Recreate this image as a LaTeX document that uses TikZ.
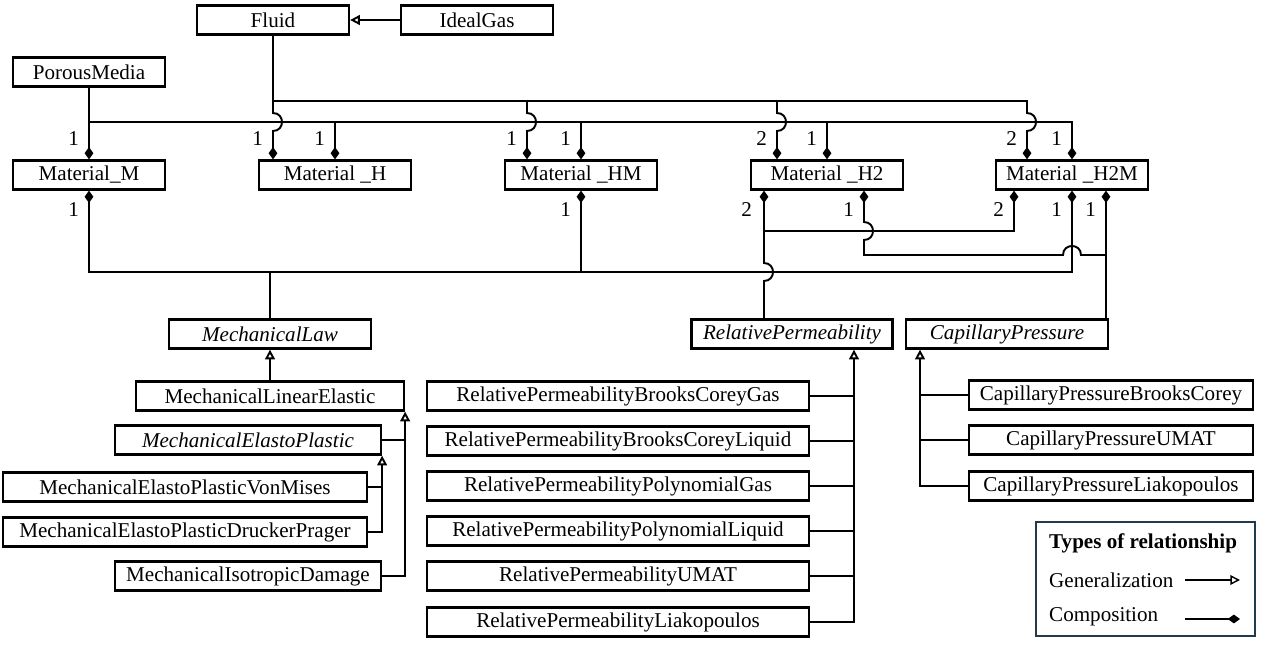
\documentclass[tikz,border=0pt]{standalone}
\usepackage{fontspec}
\setmainfont{Liberation Serif}
\usetikzlibrary{arrows.meta}
\definecolor{legendframe}{HTML}{1F3B4D}
\tikzset{
  every node/.style={font=\fontsize{12}{14}\selectfont},
  cls/.style={draw, line width=1.3pt, minimum width=3.04cm, minimum height=0.58cm, inner sep=1pt},
  abscls/.style={cls, font=\fontsize{12}{14}\selectfont\itshape},
  link/.style={line width=1.1pt},
  gen/.style={link, -{Triangle[open, length=5.5pt, width=5.5pt]}},
  comp/.style={link, -{Diamond[length=7pt, width=5pt]}},
  mult/.style={inner sep=1pt, anchor=east},
}
\begin{document}
\begin{tikzpicture}[x=0.02cm, y=-0.02cm]
  \useasboundingbox (0,0) rectangle (1262,645);
  % classes
  \node[cls] (fluid) at (273,20) {Fluid};
  \node[cls] (ideal) at (477,20) {IdealGas};
  \node[cls] (porous) at (89,72) {PorousMedia};
  \node[cls] (mM) at (89,175) {Material\_M};
  \node[cls] (mH) at (335,175) {Material \_H};
  \node[cls] (mHM) at (581,175) {Material \_HM};
  \node[cls] (mH2) at (827,175) {Material \_H2};
  \node[cls] (mH2M) at (1072,175) {Material \_H2M};

  \node[abscls, minimum width=4.04cm] (mech) at (270,334) {MechanicalLaw};
  \node[cls, minimum width=5.36cm] (mle) at (270,396) {MechanicalLinearElastic};
  \node[abscls, minimum width=5.32cm] (mep) at (248,440) {MechanicalElastoPlastic};
  \node[cls, minimum width=7.28cm] (vm) at (185,487) {MechanicalElastoPlasticVonMises};
  \node[cls, minimum width=7.28cm] (dp) at (185,532) {MechanicalElastoPlasticDruckerPrager};
  \node[cls, minimum width=5.32cm] (mid) at (248,576) {MechanicalIsotropicDamage};

  \node[abscls, minimum width=4.02cm] (relp) at (792,334) {RelativePermeability};
  \node[cls, minimum width=7.64cm] (rpbcg) at (618,396) {RelativePermeabilityBrooksCoreyGas};
  \node[cls, minimum width=7.64cm] (rpbcl) at (618,441) {RelativePermeabilityBrooksCoreyLiquid};
  \node[cls, minimum width=7.64cm] (rppg) at (618,486) {RelativePermeabilityPolynomialGas};
  \node[cls, minimum width=7.64cm] (rppl) at (618,531) {RelativePermeabilityPolynomialLiquid};
  \node[cls, minimum width=7.64cm] (rpumat) at (618,576) {RelativePermeabilityUMAT};
  \node[cls, minimum width=7.64cm] (rplia) at (618,622) {RelativePermeabilityLiakopoulos};

  \node[abscls, minimum width=4.04cm] (cap) at (1007,334) {CapillaryPressure};
  \node[cls, minimum width=5.68cm] (cpbc) at (1111,395) {CapillaryPressureBrooksCorey};
  \node[cls, minimum width=5.68cm] (cpumat) at (1111,440) {CapillaryPressureUMAT};
  \node[cls, minimum width=5.68cm] (cplia) at (1111,486) {CapillaryPressureLiakopoulos};

  % bus levels
  \coordinate (fbus) at (0,101);
  \coordinate (pbus) at (0,122);
  \coordinate (rbus) at (0,231);
  \coordinate (cbus) at (0,255);
  \coordinate (mbus) at (0,272);

  % generalization
  \draw[gen] (ideal.west) -- (fluid.east);
  \draw[gen] (mle.north) -- (mech.south);
  \draw[link] (mep.east) -- (mep.east -| mle.south east);
  \draw[gen] (mid.east) -| (mle.south east);
  \draw[link] (vm.east) -- (vm.east -| mep.south east);
  \draw[gen] (dp.east) -| (mep.south east);

  \coordinate (rpx) at ([xshift=1.24cm]relp.south);
  \draw[gen] (rplia.east) -| (rpx);
  \draw[link] (rpbcg.east) -- (rpbcg.east -| rpx);
  \draw[link] (rpbcl.east) -- (rpbcl.east -| rpx);
  \draw[link] (rppg.east) -- (rppg.east -| rpx);
  \draw[link] (rppl.east) -- (rppl.east -| rpx);
  \draw[link] (rpumat.east) -- (rpumat.east -| rpx);

  \coordinate (cpx) at ([xshift=-1.74cm]cap.south);
  \draw[gen] (cplia.west) -| (cpx);
  \draw[link] (cpbc.west) -- (cpbc.west -| cpx);
  \draw[link] (cpumat.west) -- (cpumat.west -| cpx);

  % composition: porous media
  \draw[comp] (porous.south) -- (mM.north);
  \draw[comp] (porous.south) |- (mH.north |- pbus) -- (mH.north);
  \draw[comp] (porous.south) |- (mHM.north |- pbus) -- (mHM.north);
  \draw[comp] (porous.south) |- (mH2.north |- pbus) -- (mH2.north);
  \draw[comp] (porous.south) |- (mH2M.north |- pbus) -- (mH2M.north);

  % composition: fluid (jumps over the porous bus)
  \draw[comp] (fluid.south) -- (273,113) .. controls (285,113) and (285,131) .. (273,131) -- (fluid.south |- mH.north);
  \draw[comp] (fluid.south) |- (527,101) -- (527,113) .. controls (539,113) and (539,131) .. (527,131) -- ([xshift=-1.08cm]mHM.north);
  \draw[comp] (fluid.south) |- (777,101) -- (777,113) .. controls (789,113) and (789,131) .. (777,131) -- ([xshift=-1cm]mH2.north);
  \draw[comp] (fluid.south) |- (1027,101) -- (1027,113) .. controls (1039,113) and (1039,131) .. (1027,131) -- ([xshift=-0.9cm]mH2M.north);

  % composition: mechanical law
  \draw[comp] (mech.north) |- (mM.south |- mbus) -- (mM.south);
  \draw[comp] (mech.north) |- (mHM.south |- mbus) -- (mHM.south);
  \draw[comp] (mech.north) |- (mH2M.south |- mbus) -- (mH2M.south);

  % composition: relative permeability
  \coordinate (rpt) at ([xshift=-0.56cm]relp.north);
  \draw[comp] (rpt) -- (764,281) .. controls (776,281) and (776,263) .. (764,263) -- ([xshift=-1.26cm]mH2.south);
  \draw[comp] (rpt |- rbus) -| ([xshift=-1.16cm]mH2M.south);

  % composition: capillary pressure
  \coordinate (cpt) at ([xshift=1.98cm]cap.north);
  \draw[comp] (cpt) -- ([xshift=0.68cm]mH2M.south);
  \draw[comp] (cpt |- cbus) -- (1081,255) .. controls (1081,243) and (1063,243) .. (1063,255) -- (864,255) -- (864,240) .. controls (876,240) and (876,222) .. (864,222) -- ([xshift=0.74cm]mH2.south);

  % multiplicities
  \node[mult] (nMt) at (81,139) {1};
  \node[mult] (nHf) at (265,139) {1};
  \node[mult] (nHp) at (327,139) {1};
  \node[mult] (nHMf) at (519,139) {1};
  \node[mult] (nHMp) at (573,139) {1};
  \node[mult] (nH2f) at (769,139) {2};
  \node[mult] (nH2p) at (819,139) {1};
  \node[mult] (nH2Mf) at (1019,139) {2};
  \node[mult] (nH2Mp) at (1064,139) {1};
  \node[mult] (nMb) at (81,210) {1};
  \node[mult] (nHMb) at (573,210) {1};
  \node[mult] (nH2r) at (754,210) {2};
  \node[mult] (nH2c) at (856,210) {1};
  \node[mult] (nH2Mr) at (1006,210) {2};
  \node[mult] (nH2Mm) at (1064,210) {1};
  \node[mult] (nH2Mc) at (1098,210) {1};

  % legend
  \node[draw=legendframe, line width=1.2pt, minimum width=4.38cm, minimum height=2.28cm] (legend) at (1145.5,579) {};
  \node[anchor=west, font=\fontsize{12}{14}\selectfont\bfseries] (lgtitle) at (1043,543) {Types of relationship};
  \node[anchor=west] (lggen) at (1043,580) {Generalization};
  \node[anchor=west] (lgcomp) at (1043,617) {Composition};
  \coordinate (lgg1) at (1185,580);
  \coordinate (lgg2) at (1240,580);
  \coordinate (lgc1) at (1185,619);
  \coordinate (lgc2) at (1240,619);
  \draw[gen, line width=0.8pt] (lgg1) -- (lgg2);
  \draw[comp, line width=0.8pt] (lgc1) -- (lgc2);
\end{tikzpicture}
\end{document}
